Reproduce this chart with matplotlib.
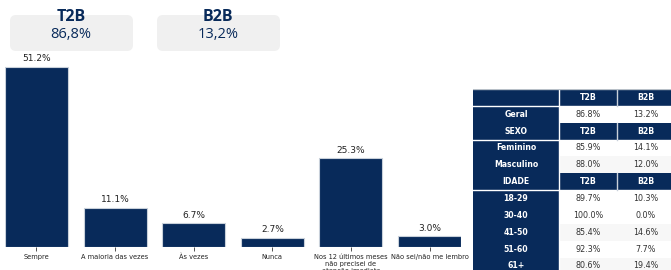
import matplotlib.pyplot as plt
from matplotlib.patches import FancyBboxPatch, Rectangle

NAVY = "#082a5a"

# bar chart data
categories = ["Sempre", "A maioria das vezes", "Às vezes", "Nunca",
              "Nos 12 últimos meses\nnão precisei de\natenção imediata",
              "Não sei/não me lembro"]
values = [51.2, 11.1, 6.7, 2.7, 25.3, 3.0]

# summary boxes
box_titles = ["T2B", "B2B"]
box_values = ["86,8%", "13,2%"]

# table data
row_labels = ["", "Geral", "SEXO", "Feminino", "Masculino", "IDADE",
              "18-29", "30-40", "41-50", "51-60", "61+"]
t2b_col = ["T2B", "86.8%", "T2B", "85.9%", "88.0%", "T2B",
           "89.7%", "100.0%", "85.4%", "92.3%", "80.6%"]
b2b_col = ["B2B", "13.2%", "B2B", "14.1%", "12.0%", "B2B",
           "10.3%", "0.0%", "14.6%", "7.7%", "19.4%"]
header_rows = [0, 2, 5]

fig = plt.figure(figsize=(6.71, 2.70), dpi=100)
W, H = 671, 270


def px_axes(x0, y0, x1, y1):
    # axes from pixel box (top-left origin)
    return fig.add_axes([x0 / W, 1 - y1 / H, (x1 - x0) / W, (y1 - y0) / H])


# bars
ax = px_axes(5, 55, 461, 247)
x = list(range(len(categories)))
ax.bar(x, values, width=0.8, color=NAVY, edgecolor="#c8d0da", linewidth=0.8)
for xi, v in zip(x, values):
    ax.text(xi, v + 1.0, f"{v:.1f}%", ha="center", va="bottom", fontsize=6.5, color="#222222")
ax.set_xlim(-0.4, 5.4)
ax.set_ylim(0, 54.6)
ax.set_xticks(x)
ax.set_xticklabels(categories, fontsize=4.8, color="#222222", linespacing=1.25, va="top")
ax.tick_params(axis="x", length=3, width=0.6, pad=2, color="#333333")
ax.set_yticks([])
for s in ax.spines.values():
    s.set_visible(False)

# summary boxes
bax = px_axes(0, 0, 300, 60)
bax.set_xlim(0, 300)
bax.set_ylim(60, 0)
bax.axis("off")
for i, (t, v) in enumerate(zip(box_titles, box_values)):
    x0 = 10 + i * 147
    bax.add_patch(FancyBboxPatch((x0, 15), 123, 36, boxstyle="round,pad=0,rounding_size=6",
                                 facecolor="#f0f0f0", edgecolor="none", mutation_aspect=1))
    bax.text(x0 + 61, 17, t, ha="center", va="center", fontsize=11.5, fontweight="bold",
             color=NAVY, family="Open Sans")
    bax.text(x0 + 61, 34, v, ha="center", va="center", fontsize=10.5, color=NAVY,
             family="Open Sans")

# table
col_edges = [0, 86, 144, 202]
n_rows = len(row_labels)
tax = px_axes(473, 89, 675, 89 + 16.85 * n_rows)
tax.set_xlim(0, col_edges[-1])
tax.set_ylim(n_rows, 0)
tax.axis("off")
for r in range(n_rows):
    is_head = r in header_rows
    cells = [row_labels[r], t2b_col[r], b2b_col[r]]
    for c in range(3):
        x0, x1 = col_edges[c], col_edges[c + 1]
        navy = c == 0 or is_head
        if navy:
            fc = NAVY
        else:
            fc = "#f7f7f7" if r in (4, 8, 10) else "white"
        tax.add_patch(Rectangle((x0, r), x1 - x0, 1, facecolor=fc, edgecolor="none"))
        tax.text((x0 + x1) / 2, r + 0.5, cells[c], ha="center", va="center",
                 fontsize=5.6 if navy else 5.8,
                 fontweight="bold" if navy else "normal",
                 color="white" if navy else "#333333")
    if is_head:
        tax.plot([0, col_edges[-1]], [r + 1, r + 1], color="white", lw=1.0)
        tax.plot([col_edges[2], col_edges[2]], [r, r + 1], color="#c8d0da", lw=1.0)
tax.plot([col_edges[1], col_edges[1]], [0, n_rows], color="white", lw=1.0)
tax.plot([0, col_edges[-1]], [0, 0], color="#b8c0c8", lw=1.0)

fig.savefig("out.png", dpi=100)
